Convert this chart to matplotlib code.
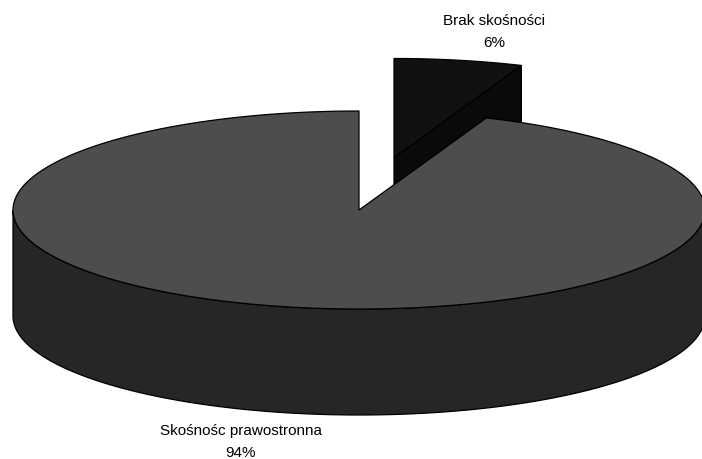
import numpy as np
import matplotlib
matplotlib.use("Agg")
import matplotlib.pyplot as plt
from matplotlib.patches import Polygon

# share of each skewness class
labels = ["Brak skośności", "Skośnośc prawostronna"]
values = [6, 94]
explode = [0.54, 0.0]

top_colors = ["#111111", "#4d4d4d"]
side_colors = ["#0a0a0a", "#262626"]

plt.rcParams["font.family"] = ["Liberation Sans", "DejaVu Sans"]

W, H = 702, 459
fig = plt.figure(figsize=(W / 100, H / 100), dpi=100)
ax = fig.add_axes([0, 0, 1, 1])
ax.set_xlim(0, W)
ax.set_ylim(H, 0)
ax.axis("off")

# pie geometry in pixels: ellipse centre, semi-axes and wall height
cx, cy = 359, 210
a, b = 346, 99
depth = 106


def rim(x0, y0, t):
    # angle t in degrees, clockwise from 12 o'clock
    r = np.radians(t)
    return x0 + a * np.sin(r), y0 - b * np.cos(r)


total = float(sum(values))
starts = np.concatenate([[0], np.cumsum(values)[:-1]]) / total * 360
ends = np.cumsum(values) / total * 360

pieces = []
for i in range(len(values)):
    mid = np.radians((starts[i] + ends[i]) / 2)
    ox = cx + explode[i] * a * np.sin(mid)
    oy = cy - explode[i] * b * np.cos(mid)
    pieces.append((ox, oy))

lw = 0.9
# draw back slice first so the big one covers it
for i in range(len(values)):
    ox, oy = pieces[i]
    t0, t1 = starts[i], ends[i]
    ts = np.linspace(t0, t1, 200)
    xs, ys = rim(ox, oy, ts)

    # outer wall, only the front half is visible
    lo, hi = max(t0, 90), min(t1, 270)
    if hi > lo:
        tw = np.linspace(lo, hi, 200)
        wx, wy = rim(ox, oy, tw)
        wall = np.column_stack([np.concatenate([wx, wx[::-1]]),
                                np.concatenate([wy, wy[::-1] + depth])])
        ax.add_patch(Polygon(wall, closed=True, fc=side_colors[i], ec="black", lw=lw))

    # cut face at the end angle when it turns toward the viewer
    if ends[i] < 180:
        ex, ey = rim(ox, oy, t1)
        face = [(ox, oy), (ex, ey), (ex, ey + depth), (ox, oy + depth)]
        ax.add_patch(Polygon(face, closed=True, fc=side_colors[i], ec="black", lw=lw))

    top = np.column_stack([np.concatenate([[ox], xs]), np.concatenate([[oy], ys])])
    ax.add_patch(Polygon(top, closed=True, fc=top_colors[i], ec="black", lw=lw))

# category labels with percentages
label_pos = [(494, 21), (241, 431)]
for i, (lx, ly) in enumerate(label_pos):
    pct = f"{values[i] / total * 100:.0f}%"
    ax.text(lx, ly, labels[i], ha="center", va="center", fontsize=11)
    ax.text(lx, ly + 22, pct, ha="center", va="center", fontsize=11)

fig.savefig("out.png", dpi=100)
